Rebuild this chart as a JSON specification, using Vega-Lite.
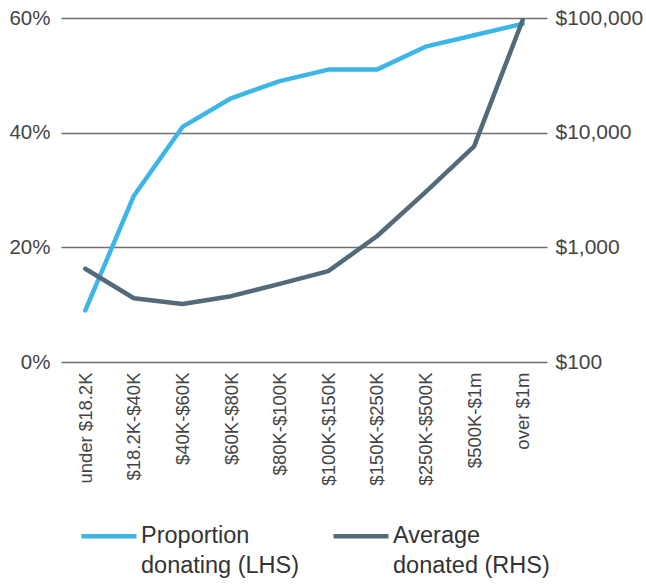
{
  "$schema": "https://vega.github.io/schema/vega-lite/v6.json",
  "width": 486,
  "height": 344,
  "autosize": {"type": "none"},
  "padding": {"left": 61, "top": 18, "right": 99, "bottom": 222},
  "background": "white",
  "data": {
    "values": [
      {"income": "under $18.2K", "prop": 9, "avg": 650},
      {"income": "$18.2K-$40K", "prop": 29, "avg": 360},
      {"income": "$40K-$60K", "prop": 41, "avg": 320},
      {"income": "$60K-$80K", "prop": 46, "avg": 375},
      {"income": "$80K-$100K", "prop": 49, "avg": 480},
      {"income": "$100K-$150K", "prop": 51, "avg": 620},
      {"income": "$150K-$250K", "prop": 51, "avg": 1250},
      {"income": "$250K-$500K", "prop": 55, "avg": 3030},
      {"income": "$500K-$1m", "prop": 57, "avg": 7600},
      {"income": "over $1m", "prop": 59, "avg": 96000}
    ]
  },
  "encoding": {
    "x": {
      "field": "income",
      "type": "ordinal",
      "sort": null,
      "scale": {"type": "point", "padding": 0.5},
      "axis": {"title": null, "labelAngle": 270, "labelAlign": "right", "labelBaseline": "middle", "labelFontSize": 18.5, "labelPadding": 10, "grid": false}
    }
  },
  "layer": [
    {
      "mark": {"type": "line", "strokeWidth": 4.5, "strokeCap": "round", "strokeJoin": "round"},
      "encoding": {
        "y": {
          "field": "prop",
          "type": "quantitative",
          "scale": {"domain": [0, 60]},
          "axis": {"title": null, "orient": "left", "values": [0, 20, 40, 60], "labelExpr": "datum.value + '%'", "labelFontSize": 20.5, "labelPadding": 11, "grid": true, "gridColor": "#707070", "gridWidth": 1.5, "gridOpacity": 1}
        },
        "color": {
          "datum": "Proportion donating (LHS)",
          "scale": {"domain": ["Proportion donating (LHS)", "Average donated (RHS)"], "range": ["#3db5e6", "#546a79"]},
          "legend": {
            "labelExpr": "datum.label == 'Proportion donating (LHS)' ? ['Proportion', 'donating (LHS)'] : ['Average', 'donated (RHS)']",
            "encode": {"labels": {"update": {"lineHeight": {"value": 30}}}}
          }
        }
      }
    },
    {
      "mark": {"type": "line", "strokeWidth": 4.5, "strokeCap": "round", "strokeJoin": "round"},
      "encoding": {
        "y": {
          "field": "avg",
          "type": "quantitative",
          "scale": {"type": "log", "domain": [100, 100000]},
          "axis": {"title": null, "orient": "right", "values": [100, 1000, 10000, 100000], "format": "$,.0f", "labelFontSize": 21, "labelPadding": 8, "grid": false}
        },
        "color": {"datum": "Average donated (RHS)"}
      }
    }
  ],
  "resolve": {"scale": {"y": "independent"}},
  "config": {
    "view": {"stroke": null},
    "font": "Liberation Sans",
    "axis": {"labelFont": "Liberation Sans", "labelColor": "#444444", "domain": false, "ticks": false},
    "legend": {
      "orient": "none",
      "legendX": 18,
      "legendY": 488,
      "direction": "horizontal",
      "title": null,
      "symbolType": "stroke",
      "symbolSize": 3025,
      "symbolStrokeWidth": 4.5,
      "labelFontSize": 23.5,
      "labelColor": "#333333",
      "labelFont": "Liberation Sans",
      "labelOffset": 2,
      "labelLimit": 300,
      "columnPadding": 24,
      "labelBaseline": "middle"
    }
  }
}
